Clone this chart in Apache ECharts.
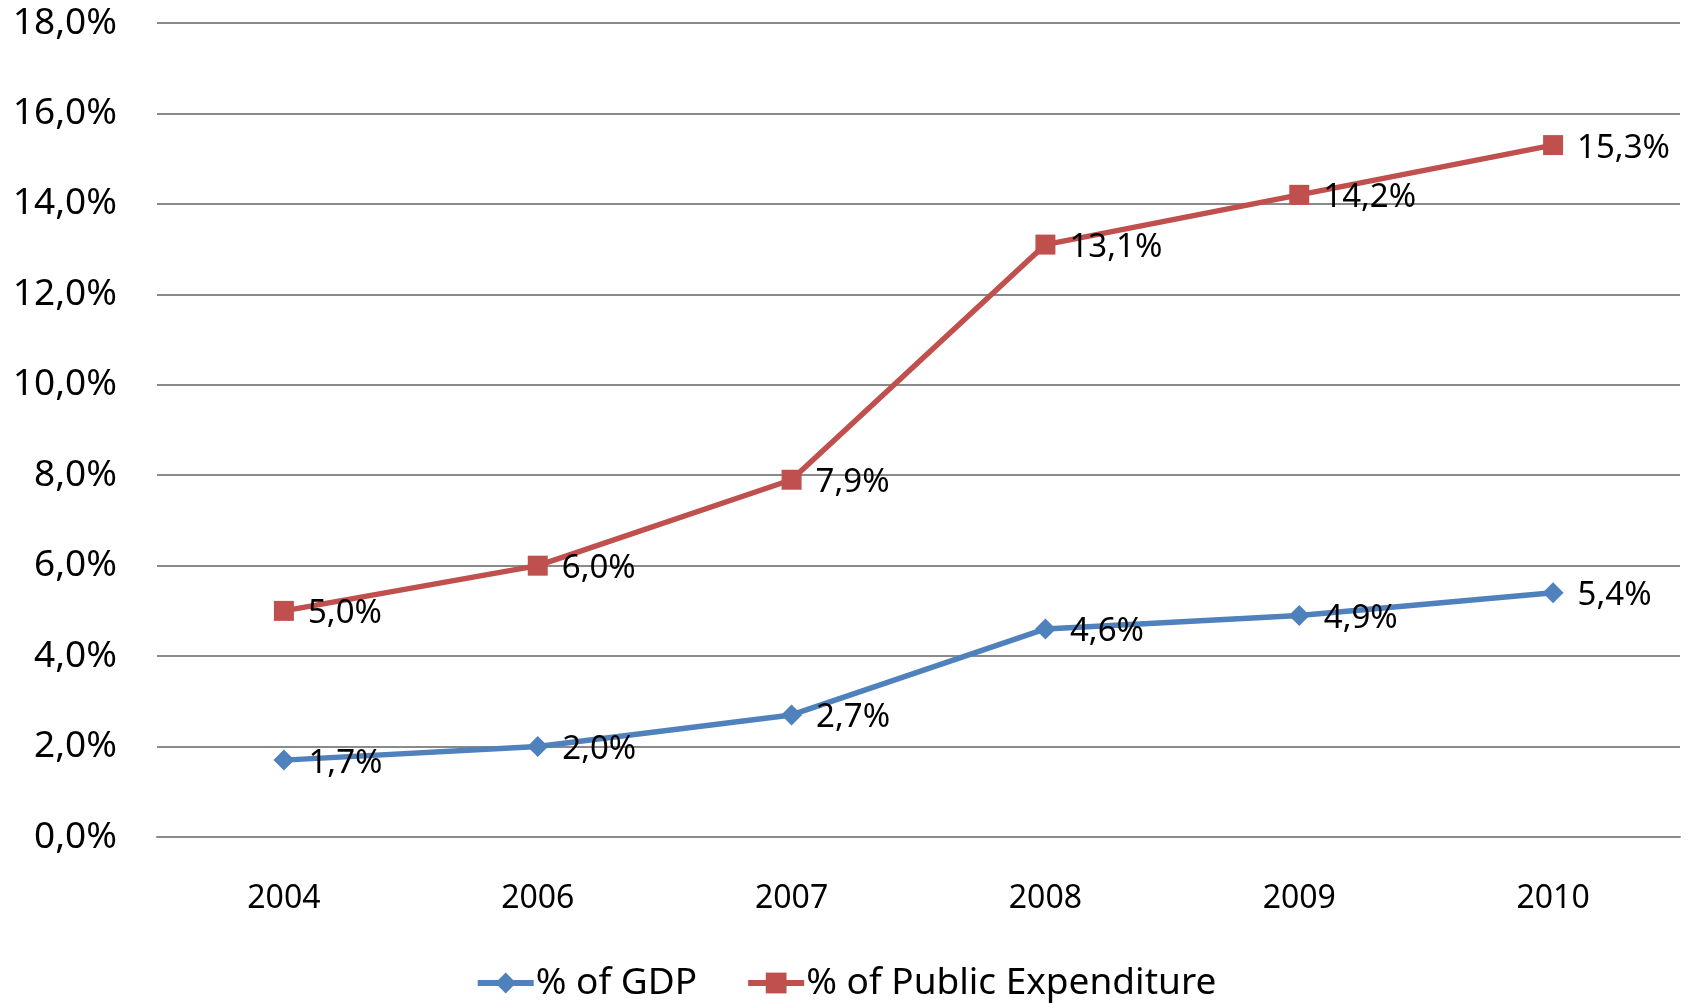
<!DOCTYPE html>
<html>
<head>
<meta charset="utf-8">
<script src="https://cdn.jsdelivr.net/npm/echarts@6/dist/echarts.min.js"></script>
<style>html,body{margin:0;padding:0;background:#fff}#c{width:1691px;height:1004px}</style>
</head>
<body>
<div id="c"></div>
<script>
var categories = ['2004', '2006', '2007', '2008', '2009', '2010'];
var gdpValues = [1.7, 2.0, 2.7, 4.6, 4.9, 5.4];
var publicExpValues = [5.0, 6.0, 7.9, 13.1, 14.2, 15.3];
var seriesNames = ['% of GDP', '% of Public Expenditure'];
var yMin = 0, yMax = 18, yStep = 2;

function pct(v) { return v.toFixed(1).replace('.', ',') + '%'; }

var FONT = '"Noto Sans", "Open Sans", sans-serif';
var chart = echarts.init(document.getElementById('c'));
var labelCfg = {
  show: true, position: 'right', distance: 14, offset: [0, 3],
  fontFamily: FONT, fontSize: 33, color: '#000',
  formatter: function (p) { return pct(p.value); }
};
chart.setOption({
  animation: false,
  textStyle: { fontFamily: FONT },
  grid: { left: 157, right: 11, top: 23, bottom: 167 },
  legend: {
    top: 954, left: 'center',
    itemWidth: 56, itemHeight: 26, itemGap: 48,
    lineStyle: { width: 6 },
    textStyle: { fontFamily: FONT, fontSize: 37, lineHeight: 48, color: '#000', padding: [0, 0, 0, -3] },
    data: seriesNames
  },
  xAxis: {
    type: 'category', data: categories, boundaryGap: true,
    axisLine: { show: true, lineStyle: { color: '#8a8a8a', width: 2 } },
    axisTick: { show: false },
    axisLabel: { margin: 46, fontFamily: FONT, fontSize: 32, color: '#000' }
  },
  yAxis: {
    type: 'value', min: yMin, max: yMax, interval: yStep,
    axisLine: { show: false }, axisTick: { show: false },
    splitLine: { lineStyle: { color: '#8a8a8a', width: 2 } },
    axisLabel: { margin: 40, fontFamily: FONT, fontSize: 37, color: '#000', formatter: function (v) { return pct(v); } }
  },
  series: [
    {
      name: seriesNames[0], type: 'line', data: gdpValues,
      symbol: 'diamond', symbolSize: 21,
      lineStyle: { color: '#4F81BD', width: 5.5 },
      itemStyle: { color: '#4F81BD' },
      label: labelCfg
    },
    {
      name: seriesNames[1], type: 'line', data: publicExpValues,
      symbol: 'rect', symbolSize: 20,
      lineStyle: { color: '#C0504D', width: 5.5 },
      itemStyle: { color: '#C0504D' },
      label: labelCfg
    }
  ]
});
</script>
</body>
</html>
